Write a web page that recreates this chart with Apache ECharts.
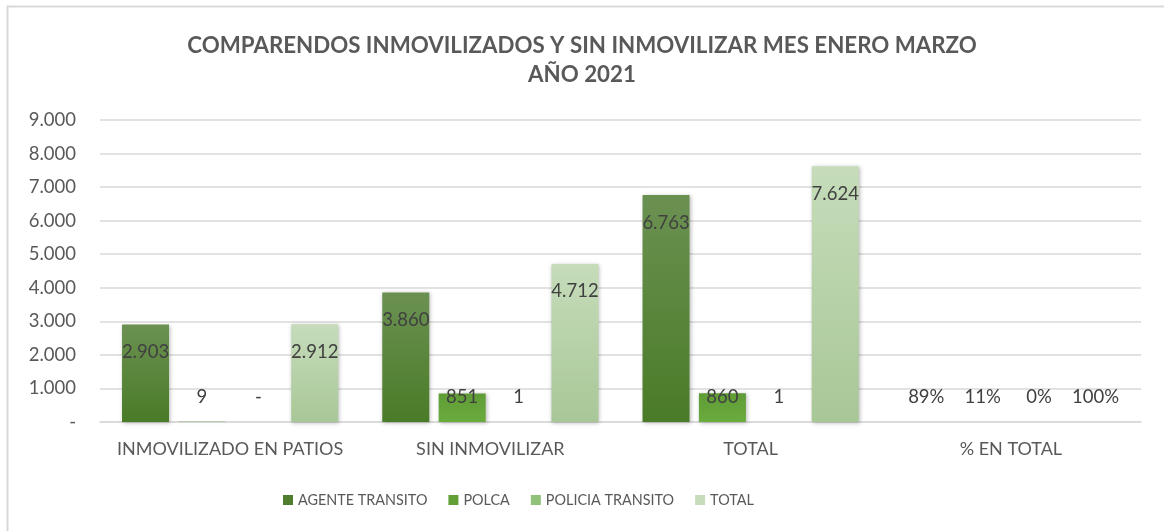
<!DOCTYPE html>
<html>
<head>
<meta charset="utf-8">
<title>Comparendos inmovilizados y sin inmovilizar</title>
<script src="https://cdn.jsdelivr.net/npm/echarts@6/dist/echarts.min.js"></script>
<style>
  html, body { margin: 0; padding: 0; background: #ffffff; }
  #chart { width: 1164px; height: 531px; }
</style>
</head>
<body>
<div id="chart"></div>
<script>
// Categories on the x axis
const categories = ['INMOVILIZADO EN PATIOS', 'SIN INMOVILIZAR', 'TOTAL', '% EN TOTAL'];

// Series values per category (last category holds shares of the total, as fractions)
const agenteTransito = [2903, 3860, 6763, 0.89];
const polca = [9, 851, 860, 0.11];
const policiaTransito = [0, 1, 1, 0];
const total = [2912, 4712, 7624, 1.00];

const seriesNames = ['AGENTE TRANSITO', 'POLCA', 'POLICIA TRANSITO', 'TOTAL'];

// Y axis ticks
const yMax = 9000;
const yStep = 1000;

const FONT = 'Lato, "Open Sans", sans-serif';
const PCT_INDEX = 3;

function fmtCount(v) {
  if (v === 0) return '-';
  return String(Math.round(v)).replace(/\B(?=(\d{3})+(?!\d))/g, '.');
}

function grad(top, bottom) {
  return new echarts.graphic.LinearGradient(0, 0, 0, 1, [
    { offset: 0, color: top },
    { offset: 1, color: bottom }
  ]);
}

// Tall bars carry their label inside near the top; short ones keep it just above the axis
function buildData(values) {
  return values.map(function (v, i) {
    const tall = i !== PCT_INDEX && v >= 1600;
    return {
      value: v,
      label: tall
        ? { position: 'insideTop', distance: 18 }
        : { position: 'insideBottom', distance: 15 }
    };
  });
}

const palette = [
  { top: '#6b9152', bottom: '#4a7b27', legend: '#4f7e2f' },
  { top: '#5f9c36', bottom: '#6aab3e', legend: '#62a035' },
  { top: '#98c585', bottom: '#86b870', legend: '#90c27a' },
  { top: '#c6dcba', bottom: '#a8c797', legend: '#c6dcba' }
];

const valueSets = [agenteTransito, polca, policiaTransito, total];

const series = valueSets.map(function (vals, s) {
  return {
    name: seriesNames[s],
    type: 'bar',
    barWidth: 47,
    barGap: '20%',
    data: buildData(vals),
    itemStyle: {
      color: grad(palette[s].top, palette[s].bottom),
      shadowBlur: 4,
      shadowColor: 'rgba(0,0,0,0.28)',
      shadowOffsetX: 1,
      shadowOffsetY: 1
    },
    label: {
      show: true,
      color: '#404040',
      fontFamily: FONT,
      fontSize: 18.5,
      formatter: function (p) {
        if (p.dataIndex === PCT_INDEX) return Math.round(p.value * 100) + '%';
        return fmtCount(p.value);
      }
    }
  };
});

const chart = echarts.init(document.getElementById('chart'), null, { renderer: 'canvas' });

chart.setOption({
  animation: false,
  backgroundColor: '#ffffff',
  color: palette.map(function (p) { return p.legend; }),
  title: {
    text: 'COMPARENDOS INMOVILIZADOS Y SIN INMOVILIZAR MES ENERO MARZO\nAÑO 2021',
    left: 'center',
    top: 26,
    textStyle: {
      fontFamily: FONT,
      fontSize: 22.3,
      fontWeight: 'bold',
      color: '#595959',
      lineHeight: 29
    }
  },
  legend: {
    bottom: 19,
    left: 278,
    icon: 'rect',
    itemWidth: 10,
    itemHeight: 10,
    itemGap: 21,
    textStyle: { fontFamily: FONT, fontSize: 14.4, color: '#595959' },
    data: seriesNames.map(function (n, i) {
      return { name: n, itemStyle: { color: palette[i].legend, shadowBlur: 0 } };
    })
  },
  grid: { left: 100, right: 23, top: 120, bottom: 109, containLabel: false },
  xAxis: {
    type: 'category',
    data: categories,
    axisLine: { lineStyle: { color: '#d9d9d9', width: 1.5 } },
    axisTick: { show: false },
    axisLabel: { interval: 0, hideOverlap: false, fontFamily: FONT, fontSize: 18, color: '#595959', margin: 18 }
  },
  yAxis: {
    type: 'value',
    min: 0,
    max: yMax,
    interval: yStep,
    axisLine: { show: false },
    axisTick: { show: false },
    splitLine: { lineStyle: { color: '#d9d9d9', width: 1.5 } },
    axisLabel: {
      fontFamily: FONT,
      fontSize: 18.5,
      color: '#595959',
      margin: 24,
      formatter: function (v) { return fmtCount(v); }
    }
  },
  graphic: [{
    type: 'rect',
    left: 5,
    top: 4,
    shape: { width: 1170, height: 540 },
    style: { fill: 'none', stroke: '#d9d9d9', lineWidth: 2 },
    silent: true,
    z: -1
  }],
  series: series
});
</script>
</body>
</html>
